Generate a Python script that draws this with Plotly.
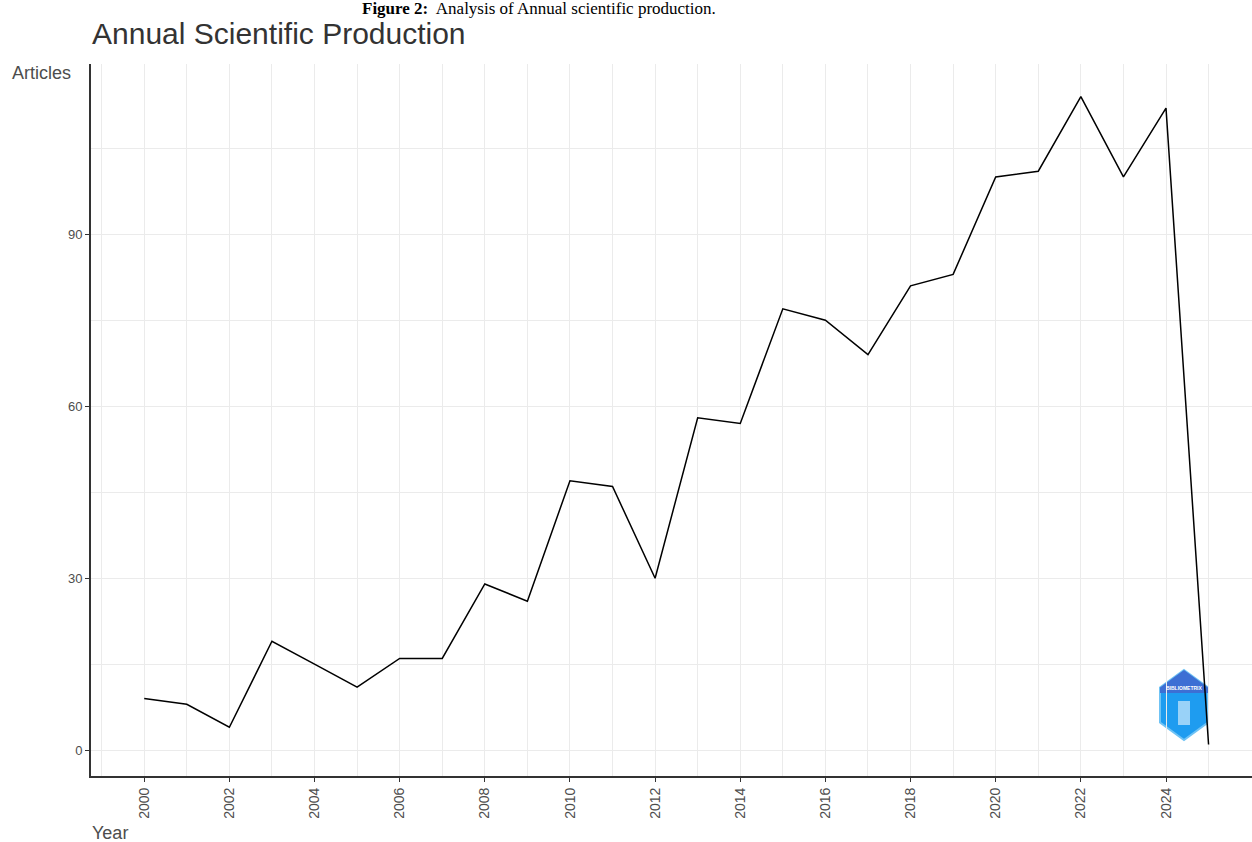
import plotly.graph_objects as go

# Annual article counts
years = list(range(2000, 2026))
articles = [9, 8, 4, 19, 15, 11, 16, 16, 29, 26, 47, 46, 30, 58, 57, 77, 75, 69,
            81, 83, 100, 101, 114, 100, 112, 1]

x_ticks = list(range(2000, 2025, 2))
y_ticks = [0, 30, 60, 90]

W, H = 1252, 842
ML, MR, MT, MB = 91, 0, 64, 66
PW, PH = W - ML - MR, H - MT - MB


def px(xp):
    return (xp - ML) / PW


def py(yp):
    return (H - MB - yp) / PH


fig = go.Figure()
fig.add_trace(go.Scatter(
    x=years, y=articles, mode="lines",
    line=dict(color="#000000", width=1.5),
    hoverinfo="x+y", showlegend=False,
))

grid = "#ebebeb"
sans = "Liberation Sans, Arial, sans-serif"
axis_font = dict(family=sans, size=13, color="#4d4d4d")

fig.update_xaxes(
    range=[1998.75, 2026.02], tickvals=x_ticks, ticktext=[str(v) for v in x_ticks],
    tickangle=-90, ticks="outside", ticklen=4, tickcolor="#333333", tickwidth=1,
    showline=True, linecolor="#333333", linewidth=2,
    showgrid=True, gridcolor=grid, gridwidth=1,
    minor=dict(dtick=1, tick0=1999, showgrid=True, gridcolor=grid, gridwidth=1, ticks=""),
    zeroline=False, tickfont=dict(axis_font, size=14),
)
fig.update_yaxes(
    range=[-4.5, 119.7], tickvals=y_ticks, ticks="outside", ticklen=4,
    tickcolor="#333333", tickwidth=1,
    showline=True, linecolor="#333333", linewidth=2,
    showgrid=True, gridcolor=grid, gridwidth=1,
    minor=dict(dtick=15, tick0=15, showgrid=True, gridcolor=grid, gridwidth=1, ticks=""),
    zeroline=False, tickfont=axis_font,
)

annotations = [
    dict(text="Annual Scientific Production", x=px(90), y=py(34), xref="paper", yref="paper",
         xanchor="left", yanchor="middle", showarrow=False,
         font=dict(family=sans, size=30, color="#333333")),
    dict(text="Articles", x=px(10), y=py(73), xref="paper", yref="paper",
         xanchor="left", yanchor="middle", showarrow=False,
         font=dict(family=sans, size=18, color="#4d4d4d")),
    dict(text="Year", x=px(90), y=py(833), xref="paper", yref="paper",
         xanchor="left", yanchor="middle", showarrow=False,
         font=dict(family=sans, size=18, color="#4d4d4d")),
    dict(text="<b>Figure 2:</b>  Analysis of Annual scientific production.",
         x=px(539), y=py(8), xref="paper", yref="paper",
         xanchor="center", yanchor="middle", showarrow=False,
         font=dict(family="Liberation Serif, Times New Roman, serif", size=17, color="#000000")),
    dict(text="<b>BIBLIOMETRIX</b>", x=px(1184), y=py(688), xref="paper", yref="paper",
         xanchor="center", yanchor="middle", showarrow=False,
         font=dict(family=sans, size=5, color="#ffffff")),
]

# bibliometrix badge: a pointed-top hexagon
cx, cy, hw, hh = 1184, 705, 24, 35
hexagon = [(cx, cy - hh), (cx + hw, cy - hh / 2), (cx + hw, cy + hh / 2),
           (cx, cy + hh), (cx - hw, cy + hh / 2), (cx - hw, cy - hh / 2)]
path = "M " + " L ".join(f"{px(a):.5f},{py(b):.5f}" for a, b in hexagon) + " Z"
top_band = [(cx, cy - hh), (cx + hw, cy - hh / 2), (cx + hw, cy - 12),
            (cx - hw, cy - 12), (cx - hw, cy - hh / 2)]
path_top = "M " + " L ".join(f"{px(a):.5f},{py(b):.5f}" for a, b in top_band) + " Z"
inner = [(cx - 6, cy - 4), (cx + 6, cy - 4), (cx + 6, cy + 20), (cx - 6, cy + 20)]
path_inner = "M " + " L ".join(f"{px(a):.5f},{py(b):.5f}" for a, b in inner) + " Z"

shapes = [
    dict(type="path", path=path, xref="paper", yref="paper",
         fillcolor="#1e9cf0", line=dict(color="#6fc3f5", width=2), layer="below"),
    dict(type="path", path=path_top, xref="paper", yref="paper",
         fillcolor="#3d6fd4", line=dict(width=0), layer="below"),
    dict(type="path", path=path_inner, xref="paper", yref="paper",
         fillcolor="rgba(255,255,255,0.55)", line=dict(width=0), layer="below"),
]

fig.update_layout(
    width=W, height=H,
    margin=dict(l=ML, r=MR, t=MT, b=MB, autoexpand=False),
    paper_bgcolor="#ffffff", plot_bgcolor="#ffffff",
    annotations=annotations, shapes=shapes, showlegend=False,
)

fig.write_html("out.html")
